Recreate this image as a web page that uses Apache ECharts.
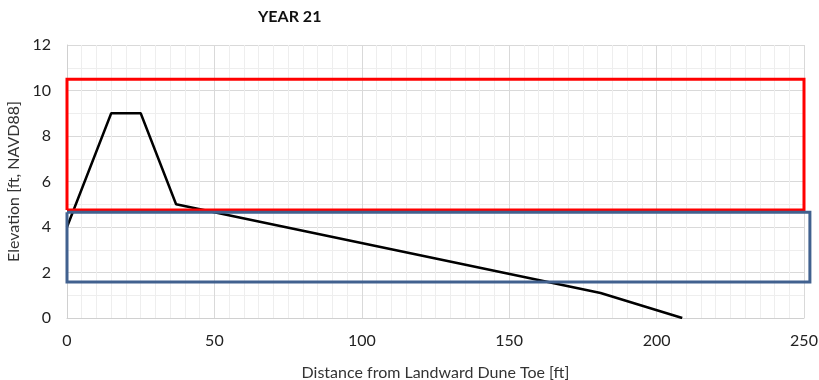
<!DOCTYPE html>
<html>
<head>
<meta charset="utf-8">
<script src="https://cdn.jsdelivr.net/npm/echarts@6/dist/echarts.min.js"></script>
<style>html,body{margin:0;padding:0;background:#fff}#c{width:819px;height:380px}</style>
</head>
<body>
<div id="c"></div>
<script>
// Data
const profileX = [0, 15, 25, 37, 181, 208.7];
const profileY = [4, 9, 9, 5, 1.1, 0];
const redBoxX = [0, 0, 250, 250, 0];
const redBoxY = [4.75, 10.5, 10.5, 4.75, 4.75];
const blueBoxX = [0, 0, 252, 252, 0];
const blueBoxY = [4.65, 1.58, 1.58, 4.65, 4.65];
const titleText = 'YEAR 21';
const xName = 'Distance from Landward Dune Toe [ft]';
const yName = 'Elevation [ft, NAVD88]';

const zip = (xs, ys) => xs.map((x, i) => [x, ys[i]]);
const font = 'Lato, "Open Sans", sans-serif';

function boxSeries(xs, ys, color, z) {
  return {
    type: 'custom',
    coordinateSystem: 'cartesian2d',
    clip: false,
    z: z,
    data: [[xs[0], ys[0]]],
    renderItem: function (params, api) {
      const pts = xs.map((x, i) => api.coord([x, ys[i]]));
      return {
        type: 'polyline',
        shape: { points: pts },
        style: { stroke: color, lineWidth: 3, fill: null, lineJoin: 'miter' }
      };
    }
  };
}

const chart = echarts.init(document.getElementById('c'));
chart.setOption({
  animation: false,
  backgroundColor: '#fff',
  title: {
    text: titleText, left: 253, top: 4,
    textStyle: { fontFamily: font, fontWeight: 'bold', fontSize: 16, color: '#111' }
  },
  grid: { left: 67, right: 15, top: 45, bottom: 62, containLabel: false, outerBoundsMode: 'none' },
  xAxis: {
    type: 'value', min: 0, max: 250, interval: 50,
    name: xName, nameLocation: 'middle', nameGap: 47,
    nameTextStyle: { fontFamily: font, fontSize: 16, color: '#333' },
    axisLine: { show: true, lineStyle: { color: '#d0d0d0' } },
    axisTick: { show: false },
    axisLabel: { fontFamily: font, fontSize: 16, color: '#222', margin: 15 },
    splitLine: { show: true, lineStyle: { color: '#d9d9d9', width: 1 } },
    minorTick: { show: false, splitNumber: 10 },
    minorSplitLine: { show: true, lineStyle: { color: '#eeeeee', width: 1 } }
  },
  yAxis: {
    type: 'value', min: 0, max: 12, interval: 2,
    name: yName, nameLocation: 'middle', nameGap: 35,
    nameTextStyle: { fontFamily: font, fontSize: 16, color: '#333' },
    axisLine: { show: true, lineStyle: { color: '#d0d0d0' } },
    axisTick: { show: false },
    axisLabel: { fontFamily: font, fontSize: 16, color: '#222', margin: 16 },
    splitLine: { show: true, lineStyle: { color: '#d9d9d9', width: 1 } },
    minorTick: { show: false, splitNumber: 2 },
    minorSplitLine: { show: true, lineStyle: { color: '#eeeeee', width: 1 } }
  },
  series: [
    {
      type: 'line', data: zip(profileX, profileY), symbol: 'none',
      lineStyle: { color: '#000', width: 2.5 }, z: 2
    },
    boxSeries(redBoxX, redBoxY, '#ff0000', 3),
    boxSeries(blueBoxX, blueBoxY, '#41618f', 4)
  ]
});
</script>
</body>
</html>
